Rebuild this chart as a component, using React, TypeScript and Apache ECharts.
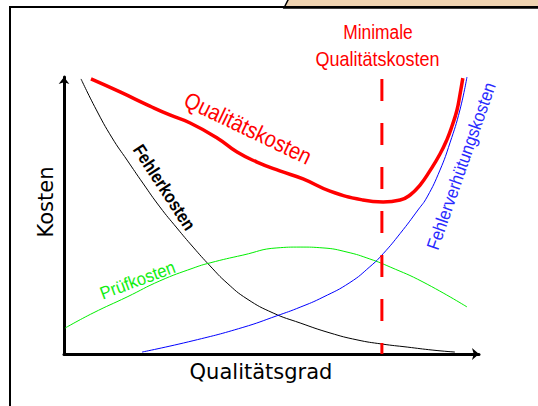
import React, { useEffect, useRef } from "react";
import * as echarts from "echarts";

// Qualitätsgrad (x, 0–100) vs. Kosten (y, 0–100)
const qualitaetskosten: [number, number][] = [
  [6.5, 99.3], [13.5, 94.6], [20.7, 89.5], [25.5, 86.3], [30.4, 83.4], [36.9, 78.0],
  [41.7, 72.9], [46.5, 69.3], [52.0, 66.1], [57.6, 63.2], [64.1, 58.8], [72.0, 55.6],
  [76.9, 54.9], [81.0, 55.6], [83.4, 57.4], [85.8, 61.0], [88.2, 66.2], [90.6, 72.2],
  [92.3, 77.5], [93.5, 82.3], [94.7, 88.1], [95.4, 93.5], [96.1, 99.6],
];
const fehlerkosten: [number, number][] = [
  [4.1, 99.3], [7.7, 88.4], [11.6, 78.0], [15.2, 70.0], [19.0, 61.7], [23.1, 53.1],
  [27.2, 45.5], [31.1, 38.6], [35.2, 31.8], [39.3, 25.6], [44.1, 19.9], [50.4, 14.8],
  [56.9, 11.2], [64.1, 7.6], [70.6, 5.1], [76.6, 3.6], [82.7, 2.5], [88.9, 1.4], [94.2, 0.7],
];
const pruefkosten: [number, number][] = [
  [0.3, 9.4], [7.0, 14.8], [15.2, 20.6], [23.1, 26.4], [31.1, 31.0], [35.2, 32.9],
  [43.1, 35.7], [51.3, 38.3], [56.9, 38.6], [62.4, 38.3], [68.2, 36.8], [73.7, 34.3],
  [78.6, 31.4], [86.5, 26.0], [97.1, 17.0],
];
const fehlerverhuetungskosten: [number, number][] = [
  [18.8, 0.7], [31.1, 4.8], [43.1, 9.6], [51.3, 13.8], [56.9, 16.9], [62.4, 20.5],
  [68.9, 25.8], [73.7, 31.5], [76.9, 36.2], [81.0, 43.5], [85.3, 52.0], [87.5, 56.7],
  [90.6, 66.4], [93.0, 76.2], [95.4, 88.1], [97.1, 100],
];
const minimumLine: [number, number][] = [[76.6, 99.3], [76.6, 0]];

const xAxisName = "Qualitätsgrad";
const yAxisName = "Kosten";
const minLabel = ["Minimale", "Qualitätskosten"];
const curveLabels = ["Qualitätskosten", "Fehlerkosten", "Prüfkosten", "Fehlerverhütungskosten"];

const deg = (d: number) => (d * Math.PI) / 180;
const SANS = '"Liberation Sans", Arial, sans-serif';

export default function App() {
  const ref = useRef<HTMLDivElement>(null);
  useEffect(() => {
    if (!ref.current) return;
    const chart = echarts.init(ref.current, undefined, { renderer: "svg" });
    const axisCommon = {
      type: "value" as const,
      min: 0,
      max: 100,
      axisTick: { show: false },
      axisLabel: { show: false },
      splitLine: { show: false },
    };
    const txt = (
      text: string, x: number, y: number, opts: {
        size: number; color: string; rot?: number; sx?: number; weight?: string; family?: string;
      }
    ) => ({
      type: "text",
      x, y,
      rotation: deg(opts.rot ?? 0),
      scaleX: opts.sx ?? 1,
      z: 100,
      silent: true,
      style: {
        text,
        fill: opts.color,
        fontSize: opts.size,
        fontFamily: opts.family ?? SANS,
        fontWeight: opts.weight ?? "normal",
        align: "center",
        verticalAlign: "middle",
      },
    });
    const curve = (data: [number, number][], color: string, width: number, z: number) => ({
      type: "line", data, showSymbol: false, smooth: 0.5, silent: true,
      lineStyle: { color, width }, z,
    });
    chart.setOption({
      animation: false,
      backgroundColor: "#ffffff",
      grid: { left: 64, right: 59, top: 77, bottom: 52 },
      xAxis: {
        ...axisCommon,
        axisLine: {
          show: true, onZero: false, symbol: ["none", "arrow"], symbolSize: [9, 7],
          lineStyle: { color: "#000", width: 3 },
        },
      },
      yAxis: {
        ...axisCommon,
        axisLine: {
          show: true, onZero: false, symbol: ["none", "arrow"], symbolSize: [8, 7],
          lineStyle: { color: "#000", width: 3 },
        },
      },
      series: [
        curve(fehlerkosten, "#000000", 1, 3),
        curve(pruefkosten, "#00ee00", 1, 3),
        curve(fehlerverhuetungskosten, "#0000ff", 1, 3),
        curve(qualitaetskosten, "#ff0000", 3.5, 4),
        { type: "line", data: minimumLine, showSymbol: false, silent: true,
          lineStyle: { color: "#ff0000", width: 3, type: [22, 22] }, z: 5 },
      ],
      graphic: [
        { type: "polygon", z: 1, silent: true,
          shape: { points: [[284, 8], [289, -2], [545, -2], [545, 8]] },
          style: { fill: "#efd3b1", stroke: "#000", lineWidth: 1.5 } },
        { type: "rect", z: 2, silent: true,
          shape: { x: 10, y: 7, width: 600, height: 450 },
          style: { fill: "none", stroke: "#000", lineWidth: 2 } },
        txt(xAxisName, 261, 372, { size: 21, color: "#000", family: '"DejaVu Sans", sans-serif' }),
        txt(yAxisName, 46, 202, { size: 21, color: "#000", rot: 90, family: '"DejaVu Sans", sans-serif' }),
        txt(minLabel[0], 378, 32, { size: 20, color: "#ff0000", sx: 0.87 }),
        txt(minLabel[1], 377.5, 59, { size: 20, color: "#ff0000", sx: 0.9 }),
        txt(curveLabels[0], 248, 128, { size: 23, color: "#ff0000", rot: -25.6, sx: 0.87 }),
        txt(curveLabels[1], 164, 187.5, { size: 18, color: "#000", rot: -57, sx: 0.88, weight: "bold" }),
        txt(curveLabels[2], 137.5, 280, { size: 18, color: "#11ee11", rot: 20.4, sx: 0.92 }),
        txt(curveLabels[3], 461, 166, { size: 18, color: "#2a2aff", rot: 70.7, sx: 0.91 }),
      ],
    });
    return () => chart.dispose();
  }, []);
  return (
    <div
      ref={ref}
      style={{ position: "fixed", left: 0, top: 0, width: 538, height: 406, background: "#fff" }}
    />
  );
}
